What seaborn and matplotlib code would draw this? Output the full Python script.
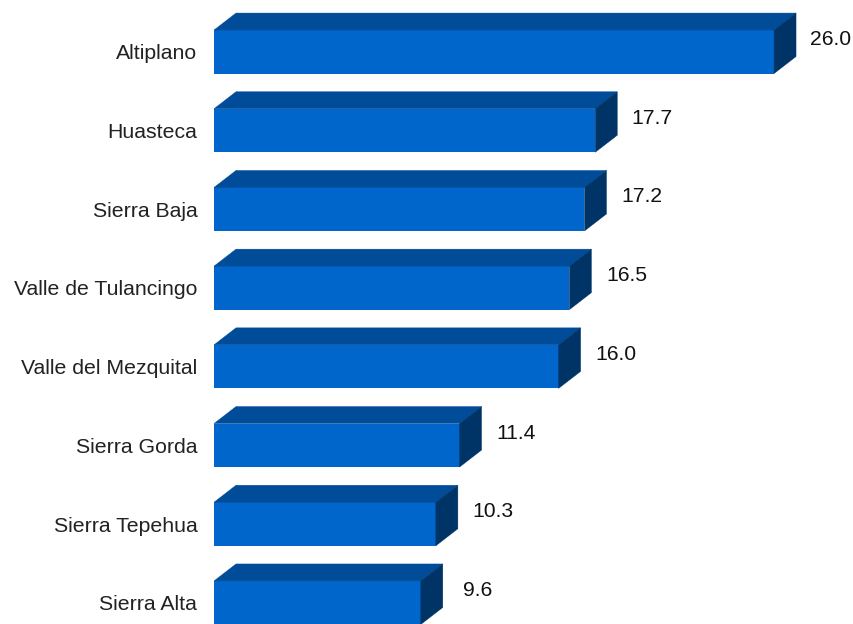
import matplotlib
matplotlib.use("Agg")
import matplotlib.pyplot as plt
from matplotlib.patches import Polygon
import seaborn as sns

regions = ["Altiplano", "Huasteca", "Sierra Baja", "Valle de Tulancingo",
           "Valle del Mezquital", "Sierra Gorda", "Sierra Tepehua", "Sierra Alta"]
values = [26.0, 17.7, 17.2, 16.5, 16.0, 11.4, 10.3, 9.6]

FRONT = "#0066CC"
TOP = "#004C99"
SIDE = "#003366"

sns.set_theme(style="white")
plt.rcParams["font.family"] = ["Liberation Sans", "DejaVu Sans"]

W, H, DPI = 854, 624, 100
fig = plt.figure(figsize=(W / DPI, H / DPI), dpi=DPI)
x0_px = 214
ax = fig.add_axes([x0_px / W, 0, (W - x0_px) / W, 1])

sx = 21.54          # px per unit on x
sy = 78.7           # px per category row
yc0 = 51.8          # px of first row centre
bar_w = 43.5 / sy

sns.barplot(x=values, y=regions, orient="h", color=FRONT, saturation=1,
            width=bar_w, ax=ax, edgecolor="none", linewidth=0)

ax.set_xlim(0, (W - x0_px) / sx)
ax.set_ylim((H - yc0) / sy, -yc0 / sy)

dx = 22 / sx
dy = -17 / sy
h = bar_w / 2
for i, v in enumerate(values):
    top = Polygon([(0, i - h), (v, i - h), (v + dx, i - h + dy), (dx, i - h + dy)],
                  closed=True, facecolor=TOP, edgecolor=TOP, linewidth=0.3, clip_on=False)
    side = Polygon([(v, i - h), (v + dx, i - h + dy), (v + dx, i + h + dy), (v, i + h)],
                   closed=True, facecolor=SIDE, edgecolor=SIDE, linewidth=0.3, clip_on=False)
    ax.add_patch(top)
    ax.add_patch(side)
    ax.text(v + dx + 35 / sx, i - h + 15 / sy, f"{v:.1f}", ha="center", va="baseline",
            fontsize=15.2, color="#111111")

ax.set_xlabel("")
ax.set_ylabel("")
ax.set_xticks([])
ax.tick_params(axis="y", length=0, pad=12, labelsize=15.3, labelcolor="#222222")
for s in ax.spines.values():
    s.set_visible(False)
ax.patch.set_alpha(0)

fig.savefig("out.png", dpi=DPI)
